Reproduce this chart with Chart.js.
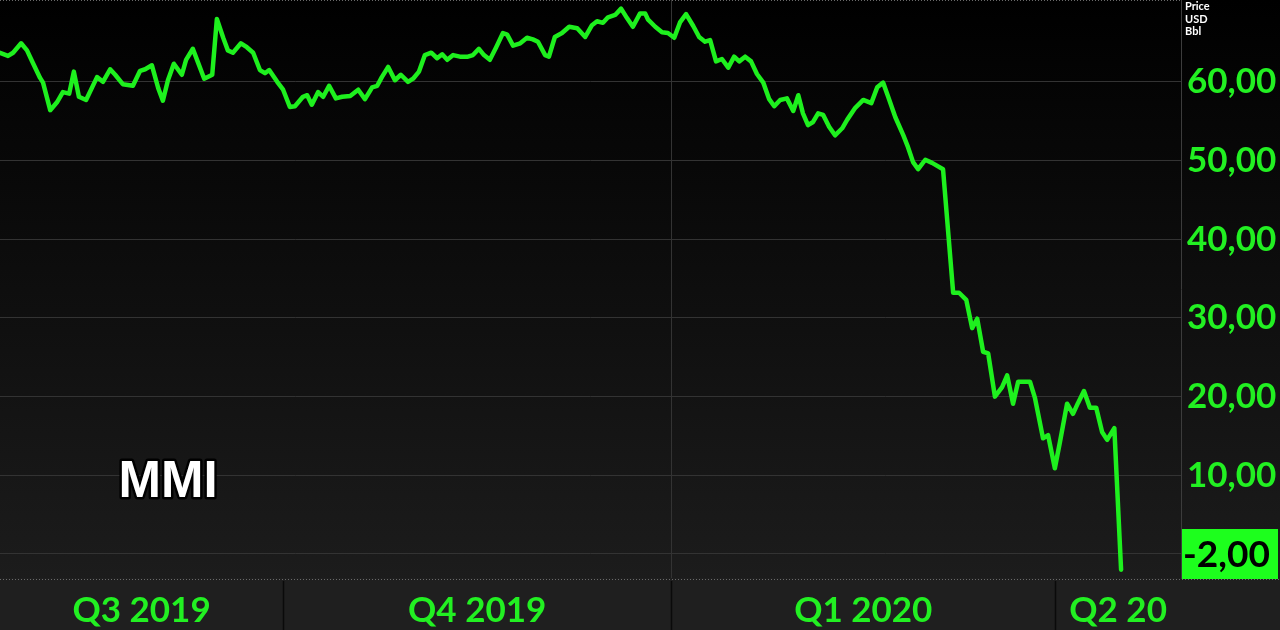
<!DOCTYPE html>
<html>
<head>
<meta charset="utf-8">
<script src="https://cdn.jsdelivr.net/npm/chart.js@4.4.1/dist/chart.umd.min.js"></script>
<style>
  html, body { margin: 0; padding: 0; background: #000; }
  canvas { display: block; }
</style>
</head>
<body>
<canvas id="myChart" width="1280" height="630"></canvas>
<script>
// days counted from 2019-07-01, price in USD/bbl
const days = [
  24.9, 26.8, 28.0, 29.9, 31.3, 32.7, 34.4, 35.1, 36.8, 38.4,
  39.8, 41.3, 42.4, 43.6, 45.3, 47.9, 49.3, 51.0, 52.2, 54.0,
  56.4, 58.1, 59.3, 60.9, 62.4, 63.5, 64.7, 66.1, 68.0, 69.0,
  70.6, 71.8, 73.3, 75.2, 76.3, 77.8, 78.9, 80.1, 82.0, 83.4,
  84.9, 86.5, 87.7, 88.7, 90.6, 92.0, 93.6, 94.8, 96.7, 97.7,
  98.8, 100.3, 101.5, 102.9, 104.5, 106.0, 107.9, 109.8, 111.4, 113.1,
  114.3, 115.4, 116.9, 118.5, 119.9, 121.6, 122.8, 124.2, 125.6, 127.1,
  128.5, 129.7, 130.9, 132.3, 133.9, 135.8, 137.0, 138.4, 139.6, 141.0,
  142.5, 144.1, 145.1, 146.5, 148.2, 149.8, 151.2, 152.4, 154.1, 155.0,
  156.4, 158.1, 159.8, 161.7, 163.6, 165.2, 166.4, 167.8, 169.0, 170.7,
  172.1, 173.5, 174.9, 176.6, 177.8, 178.5, 180.2, 181.8, 183.2, 184.7,
  186.1, 187.5, 189.2, 190.6, 192.0, 193.2, 194.6, 196.0, 197.5, 198.9,
  200.1, 201.5, 202.9, 204.3, 205.8, 207.2, 208.4, 209.8, 211.4, 212.9,
  214.1, 215.2, 216.4, 217.6, 218.8, 220.0, 221.4, 222.8, 224.5, 225.7,
  227.6, 229.5, 231.4, 232.8, 234.2, 235.4, 237.1, 239.0, 240.1, 241.3,
  242.5, 244.2, 245.8, 248.4, 250.8, 252.2, 253.9, 255.3, 256.5, 257.9,
  259.1, 260.7, 262.4, 263.6, 265.0, 266.2, 269.0, 270.2, 272.1, 273.3,
  274.9, 276.1, 277.8, 279.2, 280.4, 281.8, 283.2, 284.7, 286.1, 287.3,
  289.0, 290.6
];
const prices = [
  63.7, 63.3, 63.7, 64.9, 64.0, 62.4, 60.5, 59.9, 56.4, 57.4,
  58.7, 58.5, 61.3, 58.1, 57.7, 60.6, 60.0, 61.6, 60.9, 59.7,
  59.5, 61.4, 61.6, 62.1, 59.2, 57.6, 60.2, 62.3, 60.9, 62.8,
  64.2, 62.5, 60.4, 60.9, 68.0, 65.6, 64.0, 63.7, 64.9, 64.4,
  63.7, 61.5, 61.1, 61.5, 60.0, 59.0, 56.8, 56.9, 58.1, 58.3,
  57.1, 58.7, 58.1, 59.5, 57.9, 58.1, 58.2, 59.0, 57.8, 59.3,
  59.5, 60.6, 61.9, 60.2, 60.9, 60.0, 60.4, 61.3, 63.4, 63.7,
  63.0, 63.5, 62.8, 63.4, 63.2, 63.2, 63.4, 64.2, 63.4, 62.8,
  64.4, 66.2, 66.0, 64.6, 64.9, 65.6, 65.4, 65.1, 63.4, 63.2,
  65.7, 66.2, 67.0, 66.8, 65.7, 67.2, 67.7, 67.5, 68.2, 68.5,
  69.3, 68.1, 67.0, 68.7, 68.7, 67.9, 67.0, 66.3, 66.2, 65.6,
  67.6, 68.6, 67.1, 65.7, 65.1, 65.3, 62.6, 62.9, 61.8, 63.2,
  62.6, 63.2, 62.6, 61.0, 59.9, 57.8, 56.9, 57.7, 57.9, 56.3,
  58.3, 56.0, 54.5, 54.9, 56.0, 55.8, 54.3, 53.2, 54.1, 55.2,
  56.7, 57.7, 57.3, 59.3, 59.9, 58.1, 55.5, 53.2, 51.7, 49.8,
  48.9, 50.1, 49.7, 48.9, 33.2, 33.2, 32.3, 28.7, 29.9, 25.7,
  25.5, 20.0, 21.2, 22.7, 19.1, 21.9, 21.9, 19.8, 14.7, 15.1,
  10.9, 14.2, 19.1, 17.8, 19.2, 20.7, 18.6, 18.6, 15.5, 14.5,
  16.0, -2.0
];

const quarterStarts = [0, 92, 184, 275];          // Q3 2019, Q4 2019, Q1 2020, Q2 2020
const quarterLabels = ['Q3 2019', 'Q4 2019', 'Q1 2020', 'Q2 20'];
const yearLine = 184;                               // 2020-01-01
const yTicks = [0, 10, 20, 30, 40, 50, 60];
const xMin = 24.9, xMax = 304.8;
const yMin = -3.05, yMax = 70.4;
const seriesName = 'MMI';
const unitLines = ['Price', 'USD', 'Bbl'];

const green = '#22f022';
const lineGreen = '#1ef01e';

// label positions = middle of the visible part of each quarter
const labelTicks = quarterStarts.map((q, i) => {
    const a = Math.max(q, xMin);
    const b = Math.min(i + 1 < quarterStarts.length ? quarterStarts[i + 1] : xMax, xMax);
    return (a + b) / 2;
});

const fmt = v => v.toFixed(2).replace('.', ',');

const backdrop = {
    id: 'backdrop',
    beforeDraw(chart) {
        const c = chart.ctx, area = chart.chartArea;
        const g = c.createLinearGradient(0, 0, 0, area.bottom);
        g.addColorStop(0, '#000000');
        g.addColorStop(1, '#1c1c1c');
        c.save();
        c.fillStyle = g;
        c.fillRect(0, 0, chart.width, area.bottom);
        c.fillStyle = '#1f1f1f';
        c.fillRect(0, area.bottom, chart.width, chart.height - area.bottom);
        c.restore();
    },
    afterDraw(chart) {
        const c = chart.ctx, area = chart.chartArea;
        const xs = chart.scales.x, ys = chart.scales.y;
        c.save();
        // dotted separators top and above the time band
        c.strokeStyle = '#6a6a6a';
        c.lineWidth = 1;
        c.setLineDash([1, 2]);
        c.beginPath();
        c.moveTo(0, area.bottom + 1.5); c.lineTo(chart.width, area.bottom + 1.5);
        c.moveTo(0, 0.5); c.lineTo(area.right, 0.5);
        c.stroke();
        c.setLineDash([]);
        // quarter separators in the band
        c.strokeStyle = '#0a0a0a';
        c.lineWidth = 1.5;
        quarterStarts.forEach(q => {
            if (q <= xMin || q >= xMax) return;
            const px = Math.round(xs.getPixelForValue(q)) + 0.5;
            c.beginPath();
            c.moveTo(px, area.bottom + 3);
            c.lineTo(px, chart.height);
            c.stroke();
        });
        // unit text
        c.fillStyle = '#ffffff';
        c.font = 'bold 11px Lato';
        c.textAlign = 'left';
        c.textBaseline = 'alphabetic';
        unitLines.forEach((t, i) => c.fillText(t, area.right + 4, 10 + i * 12.5));
        // last price box
        const last = prices[prices.length - 1];
        const bh = 50;
        let cy = ys.getPixelForValue(last);
        cy = Math.min(cy, area.bottom - bh / 2 + 1);
        c.fillStyle = '#1dff1d';
        c.fillRect(area.right + 1, cy - bh / 2, chart.width - area.right - 3, bh);
        c.fillStyle = '#000000';
        c.font = 'bold 37px Lato';
        c.textBaseline = 'middle';
        c.fillText(fmt(last), area.right + 2, cy + 1);
        // series name
        c.font = 'bold 51px "Liberation Sans"';
        c.textAlign = 'center';
        c.lineJoin = 'round';
        c.lineWidth = 5;
        c.strokeStyle = '#000000';
        c.strokeText(seriesName, 168, 483);
        c.fillStyle = '#ffffff';
        c.fillText(seriesName, 168, 483);
        c.restore();
    }
};

const ctx = document.getElementById('myChart').getContext('2d');
const myChart = new Chart(ctx, {
    type: 'line',
    data: {
        datasets: [{
            label: seriesName,
            data: days.map((d, i) => ({ x: d, y: prices[i] })),
            borderColor: lineGreen,
            borderWidth: 4.5,
            pointRadius: 0,
            tension: 0,
            borderJoinStyle: 'round',
            borderCapStyle: 'round'
        }]
    },
    options: {
        responsive: false,
        animation: false,
        devicePixelRatio: 1,
        layout: { padding: 0 },
        plugins: { legend: { display: false }, tooltip: { enabled: false } },
        scales: {
            x: {
                type: 'linear',
                position: 'bottom',
                min: xMin,
                max: xMax,
                afterBuildTicks: s => { s.ticks = labelTicks.concat([yearLine]).map(v => ({ value: v })); },
                afterFit: s => { s.height = 52; s.paddingLeft = 0; s.paddingRight = 0; },
                border: { display: false },
                grid: {
                    drawTicks: false,
                    color: c => (c.tick && c.tick.value === yearLine) ? '#333333' : 'transparent',
                    lineWidth: 1
                },
                ticks: {
                    autoSkip: false,
                    maxRotation: 0,
                    padding: 12,
                    color: green,
                    font: { family: 'Lato', weight: 'bold', size: 35 },
                    callback: v => {
                        const i = labelTicks.indexOf(v);
                        return i >= 0 ? quarterLabels[i] : '';
                    }
                }
            },
            y: {
                type: 'linear',
                position: 'right',
                min: yMin,
                max: yMax,
                afterBuildTicks: s => { s.ticks = yTicks.map(v => ({ value: v })); },
                afterFit: s => { s.width = 99; s.paddingTop = 0; s.paddingBottom = 0; },
                border: { display: true, color: '#3c3c3c' },
                grid: { drawTicks: false, color: '#333333', lineWidth: 1 },
                ticks: {
                    padding: 6,
                    color: green,
                    font: { family: 'Lato', weight: 'bold', size: 35 },
                    callback: v => fmt(v)
                }
            }
        }
    },
    plugins: [backdrop]
});
</script>
</body>
</html>
